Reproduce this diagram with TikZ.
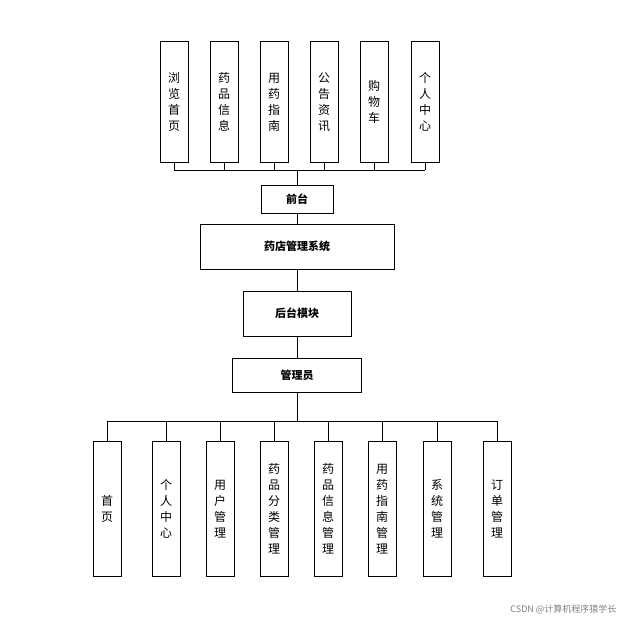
\documentclass[tikz,border=0pt]{standalone}
\usepackage{fontspec}
\setmainfont{Noto Sans CJK SC}
\begin{document}
\begin{tikzpicture}[x=1pt,y=-1pt,
  vbox/.style={draw,line width=0.8pt,minimum width=28pt,align=center,font=\fontsize{12}{16}\selectfont,inner sep=0pt},
  hbox/.style={draw,line width=0.8pt,font=\fontsize{11}{13}\selectfont\bfseries,inner sep=0pt},
  ln/.style={line width=0.8pt}]
\useasboundingbox (0,0) rectangle (624,621);
\foreach \n/\x/\t in {t1/174/浏\\览\\首\\页,t2/224/药\\品\\信\\息,t3/274/用\\药\\指\\南,t4/324/公\\告\\资\\讯,t5/374/购\\物\\车,t6/425/个\\人\\中\\心}
  \node[vbox,minimum height=121pt,anchor=north] (\n) at (\x,41) {\t};
\node[hbox,minimum width=72pt,minimum height=28pt] (qt) at (297,199) {前台};
\node[hbox,minimum width=194pt,minimum height=45pt] (sys) at (297,246.5) {药店管理系统};
\node[hbox,minimum width=108pt,minimum height=45pt] (ht) at (297,313.5) {后台模块};
\node[hbox,minimum width=129pt,minimum height=34pt] (gly) at (297,375) {管理员};
\foreach \n/\x/\t in {b1/107/首\\页,b2/166/个\\人\\中\\心,b3/220/用\\户\\管\\理,b4/274/药\\品\\分\\类\\管\\理,b5/328/药\\品\\信\\息\\管\\理,b6/382/用\\药\\指\\南\\管\\理,b7/437/系\\统\\管\\理,b8/497/订\\单\\管\\理}
  \node[vbox,minimum height=135pt,anchor=north] (\n) at (\x,441) {\t};
\coordinate (tb) at (297,170);
\coordinate (bb) at (297,421);
\foreach \n in {t1,t2,t3,t4,t5,t6} \draw[ln] (\n.south) -- (\n.south |- tb);
\draw[ln] (t1.south |- tb) -- (t6.south |- tb);
\draw[ln] (tb) -- (qt.north);
\draw[ln] (qt) -- (sys) (sys) -- (ht) (ht) -- (gly);
\draw[ln] (gly.south) -- (bb);
\foreach \n in {b1,b2,b3,b4,b5,b6,b7,b8} \draw[ln] (\n.north) -- (\n.north |- bb);
\draw[ln] (b1.north |- bb) -- (b8.north |- bb);
\node[anchor=east,text=gray,font=\fontsize{9}{10}\selectfont] (wm) at (620,609) {CSDN @计算机程序猿学长};
\end{tikzpicture}
\end{document}
